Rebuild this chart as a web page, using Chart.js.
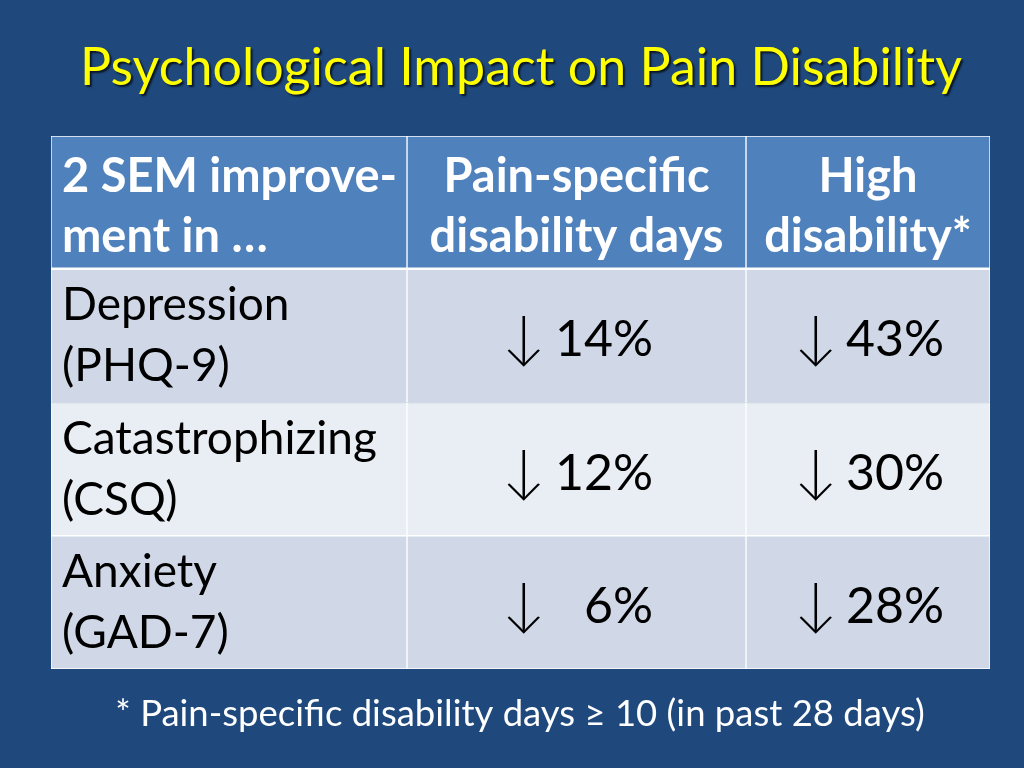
<!DOCTYPE html>
<html lang="en">
<head>
  <meta charset="UTF-8">
  <title>Psychological Impact on Pain Disability</title>
  <style>
    body { margin: 0; background: #1f497d; }
    #wrap { width: 1024px; height: 768px; }
  </style>
</head>
<body>
  <div id="wrap"><canvas id="slide" width="1024" height="768"></canvas></div>

  <script src="https://cdn.jsdelivr.net/npm/chart.js"></script>
  <script>
    // Slide data
    const title = 'Psychological Impact on Pain Disability';
    const footnote = '* Pain-specific disability days \u2265 10 (in past 28 days)';
    const headers = [
      ['2 SEM improve-', 'ment in \u2026'],
      ['Pain-specific', 'disability days'],
      ['High', 'disability*']
    ];
    const measures = ['Depression', 'Catastrophizing', 'Anxiety'];
    const instruments = ['(PHQ-9)', '(CSQ)', '(GAD-7)'];
    const painDaysDrop = [14, 12, 6];         // % drop, pain-specific disability days
    const highDisabilityDrop = [43, 30, 28];  // % drop, high disability

    // Table layout (column widths on the x scale, row fills)
    const colWidths = [356, 339, 244];
    const rowFills = ['#4f81bd', '#d0d8e8', '#e9edf4', '#d0d8e8'];
    const rows = ['header'].concat(measures);
    const colStart = colWidths.map((w, i) => colWidths.slice(0, i).reduce((a, b) => a + b, 0));
    const tableWidth = colWidths.reduce((a, b) => a + b, 0);

    const datasets = colWidths.map((w, c) => ({
      label: 'col' + c,
      data: rows.map(() => [colStart[c], colStart[c] + w]),
      backgroundColor: rowFills,
      borderColor: '#ffffff',
      borderWidth: ctx => ctx.dataIndex === 0
        ? { top: 1, left: 1, right: 1, bottom: 2 }
        : 1,
      borderSkipped: false,
      grouped: false,
      barPercentage: 1,
      categoryPercentage: 1
    }));

    const FONT = 'Lato, "Noto Sans", "DejaVu Sans", sans-serif';

    const slideText = {
      id: 'slideText',
      afterDatasetsDraw(chart) {
        const ctx = chart.ctx;
        const cell = (c, r) => {
          const p = chart.getDatasetMeta(c).data[r].getProps(['x', 'y', 'base', 'height'], true);
          return { left: Math.min(p.x, p.base), right: Math.max(p.x, p.base), top: p.y - p.height / 2 };
        };
        ctx.save();
        ctx.textBaseline = 'alphabetic';

        // header row
        ctx.fillStyle = '#ffffff';
        ctx.font = 'bold 47px ' + FONT;
        headers.forEach((lines, c) => {
          const b = cell(c, 0);
          lines.forEach((t, k) => {
            const y = b.top + 56 + k * 60;
            if (c === 0) {
              ctx.textAlign = 'left';
              ctx.fillText(t, b.left + 11, y, b.right - b.left - 14);
            } else {
              ctx.textAlign = 'center';
              ctx.fillText(t, (b.left + b.right) / 2, y, b.right - b.left - 14);
            }
          });
        });

        // body rows
        ctx.fillStyle = '#000000';
        measures.forEach((m, i) => {
          const r = i + 1;
          const b = cell(0, r);
          ctx.font = '46px ' + FONT;
          ctx.textAlign = 'left';
          ctx.fillText(m, b.left + 11, b.top + 51, b.right - b.left - 16);
          ctx.fillText(instruments[i], b.left + 11, b.top + 112);

          [[painDaysDrop, 95, 246], [highDisabilityDrop, 48, 198]].forEach(([vals, arrowX, rightX], k) => {
            const v = cell(k + 1, r);
            ctx.textAlign = 'left';
            ctx.font = '300 58px ' + FONT;
            ctx.fillText('\u2193', v.left + arrowX, v.top + 88);
            ctx.font = '50px ' + FONT;
            ctx.textAlign = 'right';
            ctx.fillText(vals[i] + '%', v.left + rightX, v.top + 87);
          });
        });

        // title with shadow
        ctx.textAlign = 'center';
        ctx.font = '52px ' + FONT;
        ctx.shadowColor = 'rgba(0,0,0,0.7)';
        ctx.shadowOffsetX = 2;
        ctx.shadowOffsetY = 2;
        ctx.shadowBlur = 2;
        ctx.fillStyle = '#ffff00';
        ctx.fillText(title, 521, 85, 882);
        ctx.shadowColor = 'transparent';

        // footnote
        ctx.fillStyle = '#ffffff';
        ctx.font = '36.5px ' + FONT;
        ctx.fillText(footnote, 520, 726, 810);
        ctx.restore();
      }
    };

    new Chart(document.getElementById('slide'), {
      type: 'bar',
      data: { labels: rows, datasets: datasets },
      options: {
        indexAxis: 'y',
        responsive: false,
        animation: false,
        events: [],
        layout: { padding: { left: 51, right: 34, top: 136, bottom: 99 } },
        scales: {
          x: { type: 'linear', min: 0, max: tableWidth, display: false },
          y: { type: 'category', display: false }
        },
        plugins: { legend: { display: false }, tooltip: { enabled: false } }
      },
      plugins: [slideText]
    });
  </script>
</body>
</html>
